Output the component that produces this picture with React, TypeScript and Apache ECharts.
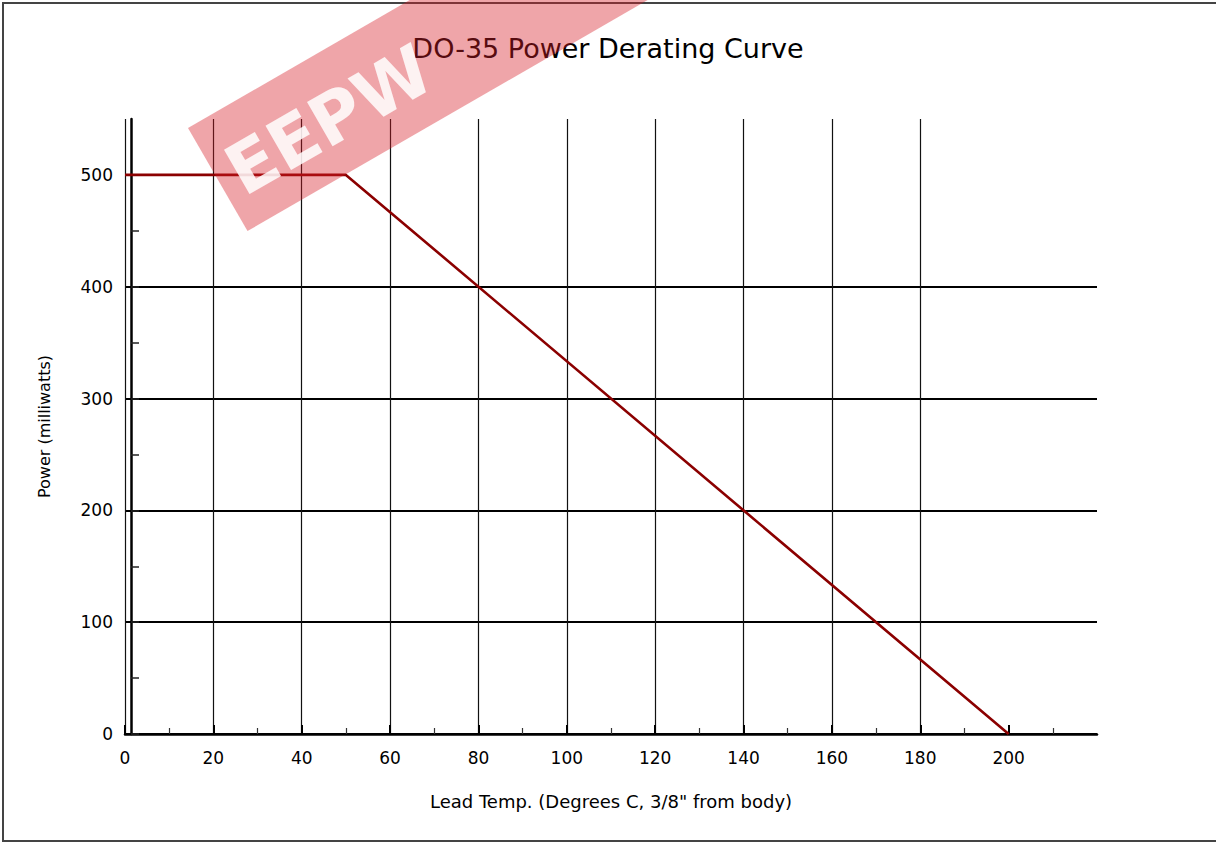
import React, { useEffect, useRef } from "react";
import * as echarts from "echarts";

const titleText = "DO-35 Power Derating Curve";
const xAxisName = 'Lead Temp. (Degrees C, 3/8" from body)';
const yAxisName = "Power (milliwatts)";
const watermarkText = "EEPW";

// derating curve: lead temperature (°C) vs allowed power (mW)
const leadTempC = [0, 50, 200];
const powerMw = [500, 500, 0];

const xTickValues = [0, 20, 40, 60, 80, 100, 120, 140, 160, 180, 200];
const yTickValues = [0, 50, 100, 150, 200, 250, 300, 350, 400, 450, 500];
const yLabelValues = [0, 100, 200, 300, 400, 500];

export default function App() {
  const ref = useRef<HTMLDivElement>(null);

  useEffect(() => {
    document.body.style.margin = "0";
    const chart = echarts.init(ref.current as HTMLDivElement, null, { renderer: "svg" });
    const font = "DejaVu Sans";
    const clear = "rgba(0,0,0,0)";
    const xColors = Array.from({ length: 12 }, (_, i) => (i <= 10 ? "#111" : clear));
    const yColors = Array.from({ length: 12 }, (_, i) =>
      i % 2 === 0 && i <= 10 ? (i === 10 ? "#8a8a8a" : "#000") : clear
    );

    chart.setOption({
      animation: false,
      backgroundColor: "#ffffff",
      title: {
        text: titleText,
        left: "center",
        top: 30,
        textStyle: { fontFamily: font, fontSize: 27, fontWeight: "normal", color: "#000" },
      },
      grid: { left: 125, right: 119, top: 119, bottom: 109 },
      xAxis: {
        type: "value",
        min: 0,
        max: 220,
        interval: 20,
        name: xAxisName,
        nameLocation: "middle",
        nameGap: 58,
        nameTextStyle: { fontFamily: font, fontSize: 18, color: "#000" },
        axisLine: { show: true, onZero: false, lineStyle: { color: "#000", width: 2.5 } },
        axisTick: {
          show: true,
          inside: true,
          length: 9,
          customValues: xTickValues,
          lineStyle: { color: "#000", width: 2 },
        },
        minorTick: { show: true, splitNumber: 2, length: 6, lineStyle: { color: "#333", width: 1.2 } },
        axisLabel: {
          fontFamily: font,
          fontSize: 17,
          color: "#000",
          margin: 15,
          formatter: (v: number) => (xTickValues.includes(v) ? String(v) : ""),
        },
        splitLine: { show: true, showMaxLine: false, lineStyle: { color: xColors, width: 1.2 } },
      },
      yAxis: {
        type: "value",
        min: 0,
        max: 550,
        interval: 50,
        offset: -6,
        name: yAxisName,
        nameLocation: "middle",
        nameGap: 79,
        nameTextStyle: { fontFamily: font, fontSize: 16, color: "#000" },
        axisLine: { show: true, onZero: false, lineStyle: { color: "#000", width: 2.5 } },
        axisTick: {
          show: true,
          inside: true,
          length: 8,
          customValues: yTickValues,
          lineStyle: { color: "#222", width: 1.5 },
        },
        axisLabel: {
          fontFamily: font,
          fontSize: 17,
          color: "#000",
          margin: 18,
          formatter: (v: number) => (yLabelValues.includes(v) ? String(v) : ""),
        },
        splitLine: { show: true, showMaxLine: false, lineStyle: { color: yColors, width: 1.8 } },
      },
      series: [
        {
          type: "line",
          data: leadTempC.map((t, i) => [t, powerMw[i]]),
          symbol: "none",
          lineStyle: { color: "#8b0000", width: 2.6 },
          z: 3,
        },
      ],
      graphic: [
        {
          type: "rect",
          z: 50,
          shape: { x: 3, y: 3, width: 1225, height: 838 },
          style: { fill: "none", stroke: "#444", lineWidth: 2 },
        },
        {
          type: "group",
          z: 100,
          x: 188,
          y: 128,
          rotation: Math.PI / 6,
          children: [
            {
              type: "rect",
              z: 100,
              shape: { x: 0, y: 0, width: 540, height: 119 },
              style: { fill: "rgba(215,30,40,0.4)" },
            },
            {
              type: "text",
              z: 101,
              x: 14,
              y: 64,
              style: {
                text: watermarkText,
                fontFamily: font,
                fontWeight: "bold",
                fontSize: 70,
                fill: "rgba(255,255,255,0.85)",
                align: "left",
                verticalAlign: "middle",
              },
            },
          ],
        },
      ],
    });

    return () => chart.dispose();
  }, []);

  return <div ref={ref} style={{ width: 1216, height: 843 }} />;
}
